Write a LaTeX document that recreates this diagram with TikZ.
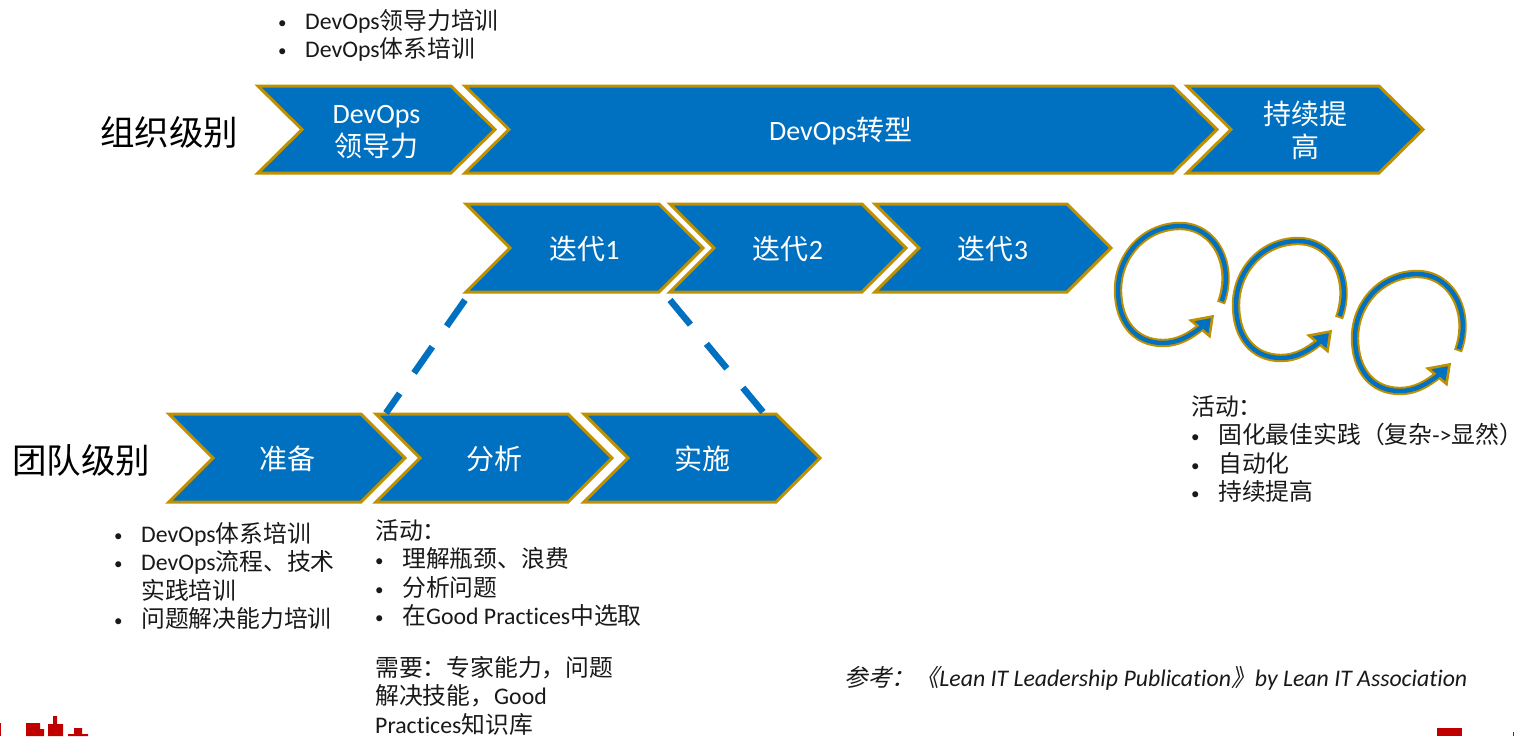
\documentclass[tikz,border=0pt]{standalone}
\usepackage{fontspec}
\setmainfont[Numbers=Lining,Ligatures=NoCommon]{Carlito}
\newfontfamily\zhf{Noto Sans CJK SC}
\newfontfamily\zhif[FakeSlant=0.2]{Noto Sans CJK SC}
\newcommand{\zh}[1]{{\zhf #1}}
\newcommand{\zhi}[1]{{\zhif #1}}
\definecolor{cblue}{HTML}{0070C0}
\definecolor{cgold}{HTML}{BF9000}
\definecolor{cred}{HTML}{C00000}
\newcommand{\bl}[1]{\makebox[27pt][l]{\raisebox{1pt}{\fontsize{17}{17}\selectfont\textbullet}}#1}
\newcommand{\chev}[7][1]{%
  % [text dy], name, x0, x1, ytop, ybot, text
  \path[chevshape] (#3,#5) coordinate (#2-tl) -- ({#4-44},#5) -- (#4,{(#5+#6)/2}) -- ({#4-44},#6) -- (#3,#6) coordinate (#2-bl) -- ({#3+44},{(#5+#6)/2}) -- cycle;
  \node[chevtext] (#2) at ({(#3+#4)/2},{(#5+#6)/2+#1}) {#7};
}
\tikzset{
  chevshape/.style={fill=cblue,draw=cgold,line width=3pt,line join=miter},
  chevtext/.style={text=white,font=\fontsize{28}{33}\selectfont,align=center,inner sep=0pt},
  lvl/.style={font=\fontsize{34.5}{40}\selectfont,inner sep=0pt,anchor=west},
  txt/.style={font=\fontsize{23.8}{28.5}\selectfont,align=left,inner sep=0pt,anchor=north west,text=black!90},
  ital/.style={font=\fontsize{23.8}{28.5}\itshape\selectfont,inner sep=0pt,anchor=west,text=black!90},
  dashln/.style={draw=cblue,line width=6.5pt,dash pattern=on 32pt off 25pt},
  redblk/.style={fill=cred,draw=none},
}
\begin{document}
\begin{tikzpicture}[x=1pt,y=-1pt]
\useasboundingbox (0,0) rectangle (1514,736);
\clip (0,0) rectangle (1514,736);

\node[lvl] (org) at (100,132) {\zh{组织级别}};
\node[lvl] (team) at (12,460) {\zh{团队级别}};

\chev[3]{lead}{258}{495}{86}{173}{DevOps\\\zh{领导力}}
\chev{trans}{465}{1217}{86}{173}{DevOps\zh{转型}}
\chev{impr}{1187}{1423}{86}{173}{\zh{持续提}\\\zh{高}}

\chev{it1}{466}{703}{204}{292}{\zh{迭代}1}
\chev{it2}{670}{906}{204}{292}{\zh{迭代}2}
\chev{it3}{875}{1111}{204}{292}{\zh{迭代}3}

\chev{prep}{169}{405}{414}{502}{\zh{准备}}
\chev{ana}{376}{612}{414}{502}{\zh{分析}}
\chev{impl}{584}{820}{414}{502}{\zh{实施}}

\coordinate (d1a) at (465,300);
\coordinate (d1b) at (386,413);
\coordinate (d2a) at (670,300);
\coordinate (d2b) at (763,412);
\draw[dashln] (d1a) -- (d1b);
\draw[dashln] (d2a) -- (d2b);

\foreach \dx/\dy in {0/0,118/15,237/48}{
  \begin{scope}[shift={(\dx,\dy)}]
    \draw[cgold,line width=8.4pt] (1221,303)
      .. controls (1235,265) and (1215,226) .. (1180,226)
      .. controls (1145,226) and (1118,255) .. (1118,290)
      .. controls (1118,322) and (1135,343) .. (1163,343)
      .. controls (1178,343) and (1190,336) .. (1201,327);
    \path[fill=cblue,draw=cgold,line width=2.6pt,line join=miter]
      (1212.5,316.5) -- (1191,320.5) -- (1200,328) -- (1209.5,336) -- cycle;
    \draw[cblue,line width=4.4pt,shorten <=2pt] (1221,303)
      .. controls (1235,265) and (1215,226) .. (1180,226)
      .. controls (1145,226) and (1118,255) .. (1118,290)
      .. controls (1118,322) and (1135,343) .. (1163,343)
      .. controls (1178,343) and (1190,336) .. (1203,326);
  \end{scope}
}

\node[txt] (t1) at (278,9) {\bl{DevOps\zh{领导力培训}}\\\bl{DevOps\zh{体系培训}}};
\node[txt] (t2) at (114,522) {\bl{DevOps\zh{体系培训}}\\\bl{DevOps\zh{流程、技术}}\\\hspace*{27pt}\zh{实践培训}\\\bl{\zh{问题解决能力培训}}};
\node[txt] (t3) at (375,519) {\zh{活动：}\\\bl{\zh{理解瓶颈、浪费}}\\\bl{\zh{分析问题}}\\\bl{\zh{在}Good Practices\zh{中选取}}};
\node[txt] (t4) at (375,656) {\zh{需要：专家能力，问题}\\\zh{解决技能，}Good\\Practices\zh{知识库}};
\node[txt] (t5) at (1191,395) {\zh{活动：}\\\bl{\zh{固化最佳实践（复杂}->\zh{显然）}}\\\bl{\zh{自动化}}\\\bl{\zh{持续提高}}};
\node[ital] (ref) at (844,678) {\zhi{参考：《}Lean IT Leadership Publication\zhi{》}by Lean IT Association};

\path[redblk] (0,723) rectangle (1,736);
\path[redblk] (26,723) -- (40,723) -- (40,729) -- (44,729) -- (44,736) -- (26,736) -- cycle;
\path[redblk] (48,724) -- (53,724) -- (53,716) -- (57,716) -- (57,724) -- (63,724) -- (63,736) -- (48,736) -- cycle;
\path[redblk] (68,736) -- (68,734) -- (74,734) -- (74,728) -- (82,728) -- (82,734) -- (88,734) -- (88,736) -- cycle;
\path[redblk] (1437,728) rectangle (1462,736);
\path[redblk] (1513,732) rectangle (1514,736);
\end{tikzpicture}
\end{document}
